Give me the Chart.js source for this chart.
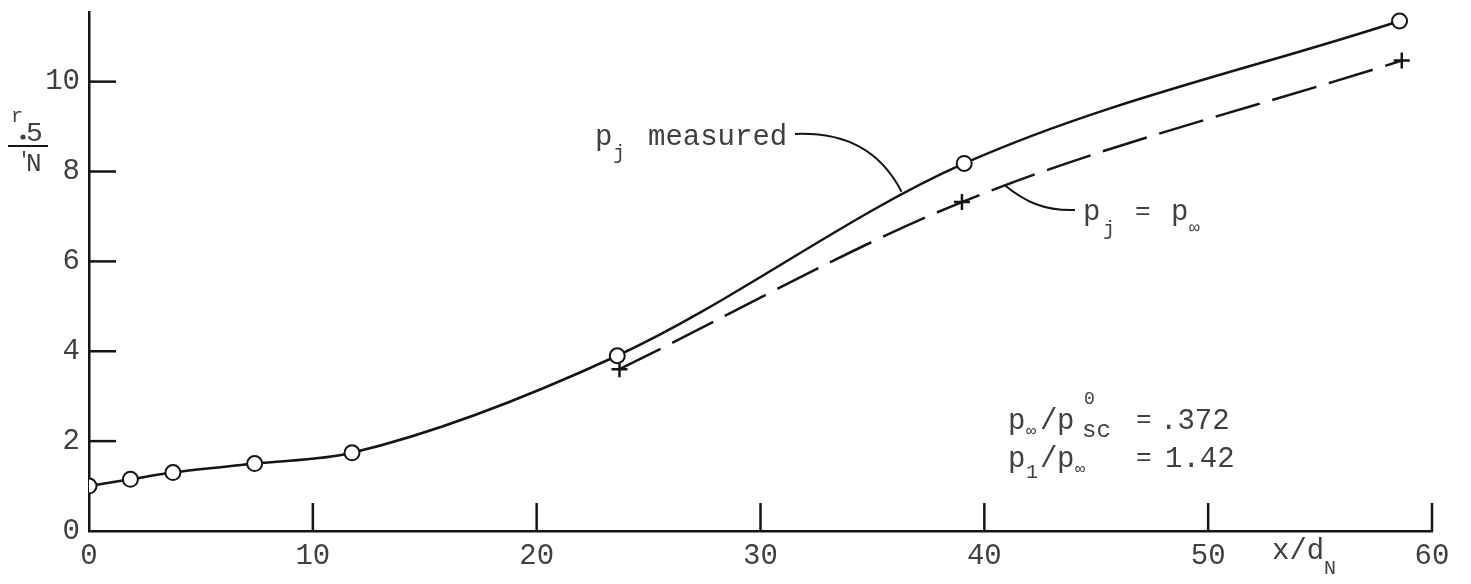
<!DOCTYPE html>
<html>
<head>
<meta charset="utf-8">
<title>r.5/rN vs x/dN</title>
<script src="https://cdn.jsdelivr.net/npm/chart.js@4.4.1/dist/chart.umd.min.js"></script>
<style>
  html, body { margin: 0; padding: 0; background: #fff; }
  #chart { display: block; }
</style>
</head>
<body>
<canvas id="chart" width="1471" height="584"></canvas>
<script>
// data
const xMeasured = [0, 1.85, 3.75, 7.4, 11.75, 23.6, 39.1, 58.55];
const yMeasured = [1.0, 1.15, 1.3, 1.5, 1.74, 3.9, 8.18, 11.35];
const xIdeal = [23.7, 39.0, 58.65];
const yIdeal = [3.6, 7.32, 10.47];
const xTicks = [0, 10, 20, 30, 40, 50, 60];
const yTicks = [0, 2, 4, 6, 8, 10];

const INK = "#151515";
const TEXT = "#404040";
const FONT = '"Liberation Mono", "DejaVu Sans Mono", monospace';

const toPoints = (xs, ys) => xs.map((x, i) => ({ x: x, y: ys[i] }));

// inward tick marks + annotations
const decor = {
  id: "decor",
  beforeDatasetsDraw(chart) {
    const { ctx, scales: { x, y }, chartArea } = chart;
    ctx.save();
    ctx.strokeStyle = INK;
    ctx.lineWidth = 2.5;
    yTicks.forEach((v) => {
      if (v === 0) return;
      const py = y.getPixelForValue(v);
      ctx.beginPath();
      ctx.moveTo(chartArea.left, py);
      ctx.lineTo(chartArea.left + 27, py);
      ctx.stroke();
    });
    xTicks.forEach((v) => {
      if (v === 0) return;
      const px = x.getPixelForValue(v);
      ctx.beginPath();
      ctx.moveTo(px, chartArea.bottom);
      ctx.lineTo(px, chartArea.bottom - 28);
      ctx.stroke();
    });
    ctx.restore();
  },
  afterDraw(chart) {
    const { ctx, scales: { x, y } } = chart;
    const t = (s, px, py, size) => {
      ctx.font = size + "px " + FONT;
      ctx.fillText(s, px, py);
    };
    ctx.save();
    ctx.fillStyle = TEXT;
    ctx.strokeStyle = INK;
    ctx.textBaseline = "alphabetic";
    ctx.textAlign = "left";

    // y axis title  r.5 / rN
    t("r", 11, 122, 20);
    ctx.beginPath();
    ctx.arc(23, 137, 2.6, 0, Math.PI * 2);
    ctx.fill();
    t("5", 26, 141, 28);
    ctx.lineWidth = 2;
    ctx.beginPath();
    ctx.moveTo(8, 146);
    ctx.lineTo(48, 146);
    ctx.stroke();
    t("'", 18, 166, 20);
    t("N", 26, 171, 26);

    // x axis title  x/dN
    t("x/d", 1272, 559, 29);
    t("N", 1324, 574, 20);

    // p_j measured
    t("p", 595, 145, 29);
    t("j", 613, 159, 20);
    t("measured", 648, 145, 29);
    const m = { x: x.getPixelForValue(36.3), y: y.getPixelForValue(7.55) };
    ctx.lineWidth = 2;
    ctx.beginPath();
    ctx.moveTo(795, 134);
    ctx.bezierCurveTo(845, 132, 880, 150, m.x, m.y);
    ctx.stroke();

    // p_j = p_inf
    t("p", 1083, 220, 29);
    t("j", 1103, 235, 20);
    t("=", 1135, 219, 26);
    t("p", 1171, 220, 29);
    t("\u221e", 1189, 233, 18);
    const d = { x: x.getPixelForValue(40.9), y: y.getPixelForValue(7.7) };
    ctx.beginPath();
    ctx.moveTo(d.x, d.y);
    ctx.bezierCurveTo(1025, 202, 1045, 211, 1075, 210);
    ctx.stroke();

    // conditions
    t("p", 1008, 429, 29);
    t("\u221e", 1026, 436, 17);
    t("/", 1040, 429, 29);
    t("p", 1057, 429, 29);
    t("0", 1084, 404, 18);
    t("sc", 1082, 437, 24);
    t("=", 1136, 427, 26);
    t(".372", 1160, 429, 29);

    t("p", 1008, 467, 29);
    t("1", 1026, 478, 20);
    t("/", 1040, 467, 29);
    t("p", 1057, 467, 29);
    t("\u221e", 1075, 474, 17);
    t("=", 1136, 465, 26);
    t("1.42", 1165, 467, 29);

    ctx.restore();
  }
};

new Chart(document.getElementById("chart"), {
  type: "scatter",
  data: {
    datasets: [
      {
        label: "p_j measured",
        data: toPoints(xMeasured, yMeasured),
        showLine: true,
        cubicInterpolationMode: "monotone",
        borderColor: INK,
        borderWidth: 2.5,
        pointStyle: "circle",
        pointRadius: 7.5,
        pointBorderWidth: 2,
        pointBackgroundColor: "#fff",
        pointBorderColor: INK
      },
      {
        label: "p_j = p_inf",
        data: toPoints(xIdeal, yIdeal),
        showLine: true,
        cubicInterpolationMode: "monotone",
        borderColor: INK,
        borderWidth: 2.5,
        borderDash: [46, 13],
        pointStyle: "cross",
        pointRadius: 8,
        pointBorderWidth: 2.5,
        pointBorderColor: INK
      }
    ]
  },
  options: {
    responsive: false,
    animation: false,
    devicePixelRatio: 1,
    layout: { padding: { top: 12, right: 39, left: 0, bottom: 0 } },
    plugins: {
      legend: { display: false },
      tooltip: { enabled: false }
    },
    scales: {
      x: {
        type: "linear",
        min: 0,
        max: 60,
        afterBuildTicks: (s) => { s.ticks = xTicks.map((v) => ({ value: v })); },
        afterFit: (s) => { s.height = 53; },
        grid: { display: false, drawTicks: false },
        border: { display: true, color: INK, width: 2.5 },
        ticks: {
          padding: 8,
          color: TEXT,
          font: { family: FONT, size: 29 },
          maxRotation: 0
        }
      },
      y: {
        type: "linear",
        min: 0,
        max: 11.55,
        afterBuildTicks: (s) => { s.ticks = yTicks.map((v) => ({ value: v })); },
        afterFit: (s) => { s.width = 89; s.paddingTop = 0; s.paddingBottom = 0; },
        grid: { display: false, drawTicks: false },
        border: { display: true, color: INK, width: 2.5 },
        ticks: {
          padding: 9,
          color: TEXT,
          font: { family: FONT, size: 29 }
        }
      }
    }
  },
  plugins: [decor]
});
</script>
</body>
</html>
